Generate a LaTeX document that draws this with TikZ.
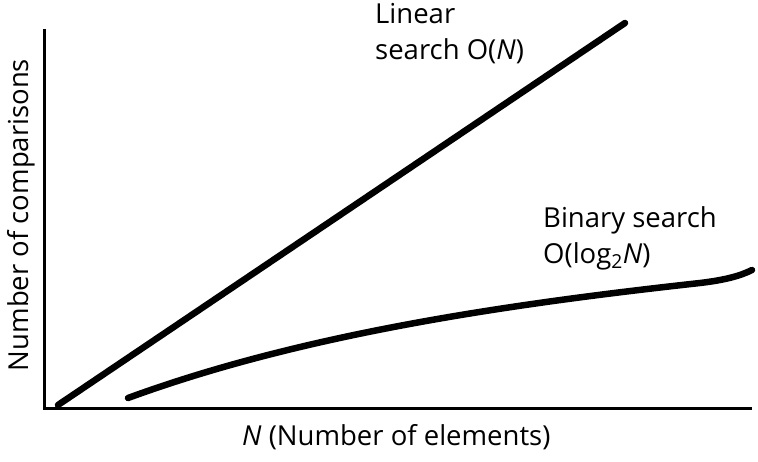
\documentclass[tikz,border=0pt]{standalone}
\usepackage{fontspec}
\setmainfont{Open Sans}
\begin{document}
\begin{tikzpicture}[x=1pt,y=-1pt,
  axisline/.style={line width=3pt},
  curveline/.style={line width=6.5pt, line cap=round, line join=round},
  lbl/.style={inner sep=0pt, font=\fontsize{27.5}{36}\selectfont, align=left}]
\useasboundingbox (0,0) rectangle (758,461);
\coordinate (top) at (44,29);
\coordinate (origin) at (44,408);
\coordinate (right) at (752,408);
\draw[axisline] (top) -- (origin) -- (right);
\coordinate (linstart) at (58,405);
\coordinate (linend) at (625,23);
\draw[curveline] (linstart) -- (linend);
\coordinate (binstart) at (128,398);
\coordinate (binmid) at (700,283);
\coordinate (binend) at (752,270);
\draw[curveline] (binstart) .. controls (300,335) and (500,305) .. (binmid)
  .. controls (725,280) and (740,276) .. (binend);
\node[lbl, anchor=north west] (linlbl) at (375,3) {Linear\\search O(\textit{N})};
\node[lbl, anchor=north west] (binlbl) at (543,206) {Binary search\\O(log\textsubscript{2}\textit{N})};
\node[lbl, anchor=base west] (xlbl) at (242,445) {\textit{N} (Number of elements)};
\node[lbl, anchor=base, rotate=90] (ylbl) at (28,215) {Number of comparisons};
\end{tikzpicture}
\end{document}
